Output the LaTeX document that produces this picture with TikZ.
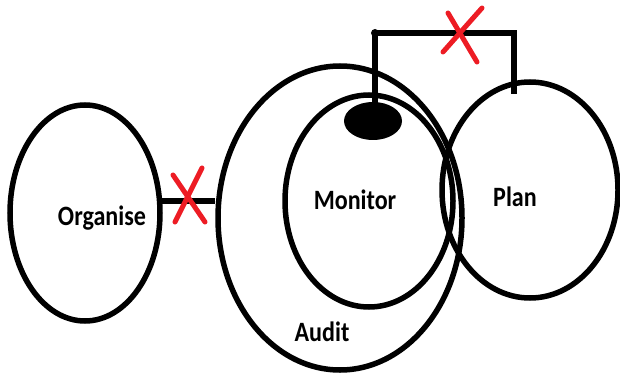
\documentclass[tikz,border=0pt]{standalone}
\usepackage{fontspec}
\setmainfont{Carlito}
\usetikzlibrary{shapes.geometric}
\definecolor{xred}{RGB}{237,28,36}
\tikzset{
  ring/.style={ellipse, draw=black, line width=5.5pt, inner sep=0pt},
  lbl/.style={font=\fontsize{28}{30}\selectfont\bfseries, inner sep=0pt, text=black, xscale=0.86},
  wire/.style={draw=black, line width=5.5pt},
  cross/.style={draw=xred, line width=5pt, line cap=round}
}
\begin{document}
\begin{tikzpicture}[x=1pt,y=-1pt]
\useasboundingbox (0,0) rectangle (620,374);
\node[ring, minimum width=150pt, minimum height=216pt] (org) at (85,213) {};
\node[ring, minimum width=244pt, minimum height=304pt] (audit) at (340,218) {};
\node[ring, minimum width=168pt, minimum height=212pt] (mon) at (369,201) {};
\node[ring, minimum width=176pt, minimum height=216pt] (plan) at (530,190) {};
\node[ellipse, fill=black, inner sep=0pt, minimum width=58pt, minimum height=38pt] (blob) at (373,121) {};
\node[lbl] (torg) at (102,218) {Organise};
\node[lbl] (tmon) at (355,200) {Monitor};
\node[lbl] (tplan) at (515,197) {Plan};
\node[lbl] (taud) at (322,332) {Audit};
% left connector
\draw[wire] (org.9) -- (org.9 -| audit.west);
% top connector
\coordinate (tl) at (375,33);
\coordinate (tr) at (514,33);
\coordinate (pe) at (514,94);
\draw[wire] (blob.center -| tl) -- (tl) -- (tr) -- (pe);
\fill[black] (tl) circle (4pt);
% red crosses
\draw[cross] (202,168) -- (175,222);
\draw[cross] (173,175) -- (205,222);
\draw[cross] (448,13) -- (477,62);
\draw[cross] (482,8) -- (443,52);
\end{tikzpicture}
\end{document}
